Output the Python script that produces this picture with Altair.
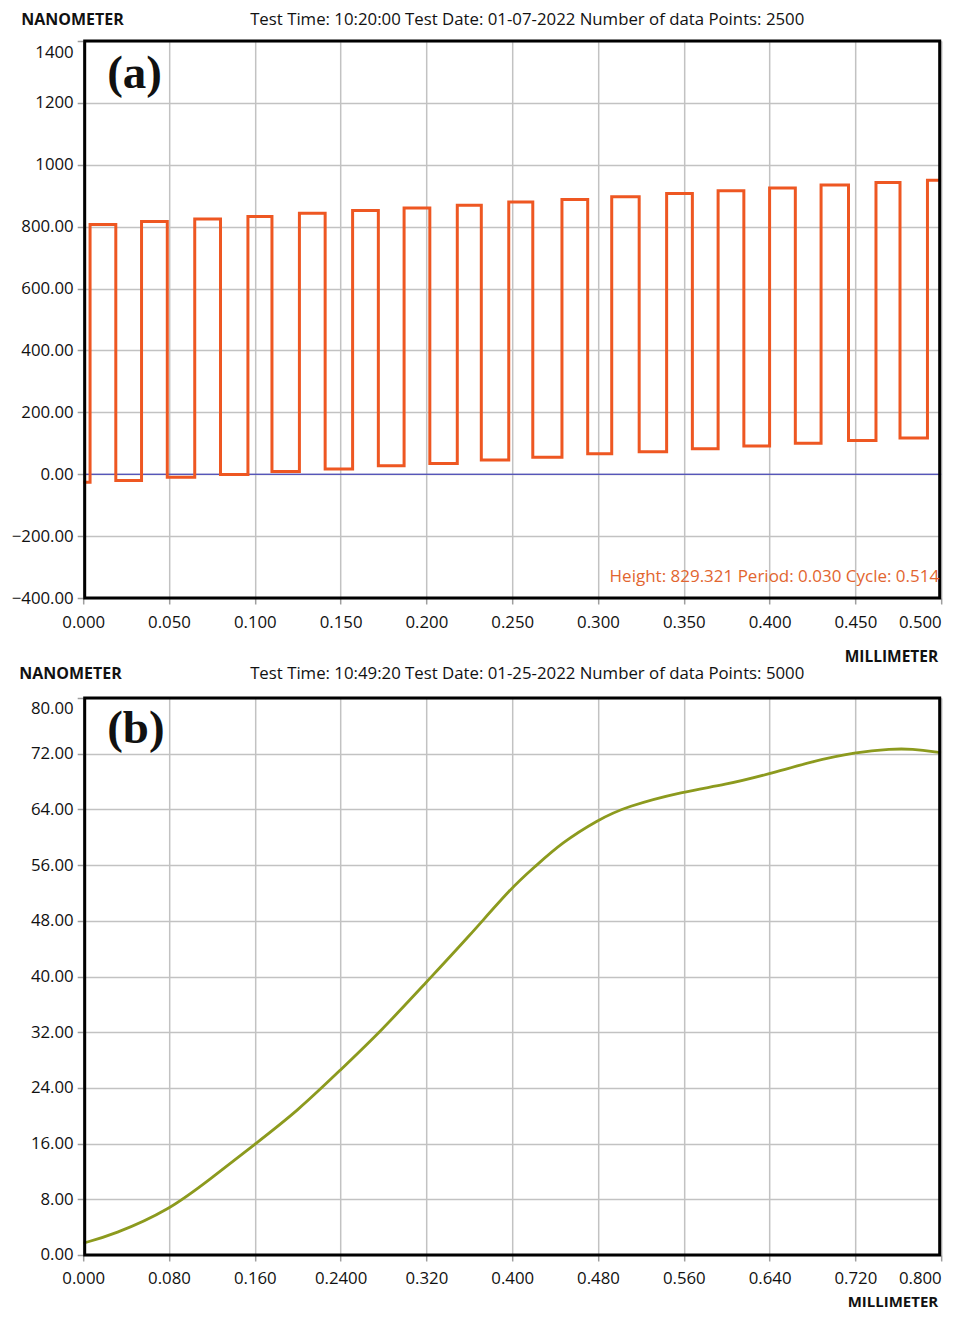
import altair as alt
import pandas as pd

# ---------------- Panel (a): square-wave profile ----------------
rise_a = [0.004, 0.034, 0.065, 0.096, 0.126, 0.157, 0.187, 0.218, 0.248,
          0.279, 0.308, 0.340, 0.370, 0.400, 0.430, 0.462, 0.492]
fall_a = [0.019, 0.049, 0.080, 0.110, 0.141, 0.172, 0.202, 0.232,
          0.262, 0.294, 0.324, 0.355, 0.385, 0.415, 0.446, 0.476]
high_a = [807, 817, 825, 833, 843, 852, 860, 869, 880, 888, 897, 907, 916,
          925, 935, 943, 950]
low_a = [-26, -20, -10, -1, 9, 17, 27, 35, 46, 55, 66, 73, 82, 91, 100, 109, 117]

x_ticks_a = [0.0, 0.05, 0.1, 0.15, 0.2, 0.25, 0.3, 0.35, 0.4, 0.45, 0.5]
y_ticks_a = [-400, -200, 0, 200, 400, 600, 800, 1000, 1200, 1400]

header_a = "Test Time: 10:20:00 Test Date: 01-07-2022 Number of data Points: 2500"
note_a = "Height: 829.321 Period: 0.030 Cycle: 0.514"

# ---------------- Panel (b): smooth profile ----------------
x_b = [0.000, 0.028, 0.080, 0.120, 0.160, 0.200, 0.240, 0.278, 0.320, 0.360,
       0.400, 0.4215, 0.446, 0.480, 0.506, 0.560, 0.598, 0.640, 0.680, 0.720,
       0.754, 0.772, 0.798, 0.800]
y_b = [1.7, 2.9, 6.4, 11.1, 15.9, 20.7, 26.6, 32.2, 39.2, 45.8,
       52.9, 55.8, 59.2, 62.5, 64.4, 66.6, 67.5, 69.1, 70.9, 72.2,
       72.7, 72.7, 72.2, 72.1]

x_ticks_b = [0.0, 0.08, 0.16, 0.24, 0.32, 0.4, 0.48, 0.56, 0.64, 0.72, 0.8]
y_ticks_b = [0, 8, 16, 24, 32, 40, 48, 56, 64, 72, 80]

header_b = "Test Time: 10:49:20 Test Date: 01-25-2022 Number of data Points: 5000"

# build step path for (a)
px, py = [0.0], [low_a[0]]
for k in range(len(rise_a)):
    px += [rise_a[k], rise_a[k]]
    py += [low_a[k], high_a[k]]
    if k < len(fall_a):
        px += [fall_a[k], fall_a[k]]
        py += [high_a[k], low_a[k + 1]]
    else:
        px += [0.5]
        py += [high_a[k]]
df_a = pd.DataFrame({"x": px, "y": py, "i": list(range(len(px)))})
df_b = pd.DataFrame({"x": x_b, "y": y_b})

W = 858
H_A = 557
H_B = 557
FONT = "Open Sans"
LBL = 16.8

def axis_x(vals, label_expr, last):
    return alt.Axis(values=vals, grid=True, gridColor="#C2C2C2", gridWidth=1.5,
                    domain=False, ticks=True, tickColor="#9E9E9E", tickSize=6,
                    tickWidth=1.5, labelFont=FONT, labelFontSize=LBL, labelColor="#111111",
                    labelPadding=10, labelExpr=label_expr, labelFlush=False,
                    labelAlign={"condition": {"test": f"datum.value >= {last}", "value": "right"},
                                "value": "center"},
                    title=None)

def axis_y(vals, label_expr, top):
    return alt.Axis(values=vals, grid=True, gridColor="#C2C2C2", gridWidth=1.5,
                    domain=False, ticks=True, tickColor="#9E9E9E", tickSize=6,
                    tickWidth=1.5, labelFont=FONT, labelFontSize=LBL, labelColor="#111111",
                    labelPadding=4, labelExpr=label_expr, labelFlush=False,
                    labelBaseline={"condition": {"test": f"datum.value >= {top}", "value": "top"},
                                   "value": "middle"},
                    labelOffset={"condition": {"test": f"datum.value >= {top}", "value": 3},
                                 "value": 0},
                    title=None)

def txt(s, x, y, size=15, weight="normal", align="left", color="#111111", font=FONT):
    return alt.Chart(pd.DataFrame({"t": [s]})).mark_text(
        font=font, fontSize=size, fontWeight=weight, align=align, baseline="middle",
        color=color
    ).encode(text="t:N", x=alt.value(x), y=alt.value(y))

def frame(h):
    return alt.Chart(pd.DataFrame({"a": [0]})).mark_rect(
        fill="transparent", stroke="black", strokeWidth=3
    ).encode(x=alt.value(1.5), x2=alt.value(W - 1.5), y=alt.value(0), y2=alt.value(h))

# ----- panel (a) -----
xa = alt.X("x:Q", scale=alt.Scale(domain=[0, 0.5], nice=False, zero=False),
           axis=axis_x(x_ticks_a, "format(datum.value, '.3f')", 0.5))
ya = alt.Y("y:Q", scale=alt.Scale(domain=[-400, 1400], nice=False, zero=False),
           axis=axis_y(y_ticks_a,
                       "datum.value >= 1000 ? format(datum.value, 'd') : format(datum.value, '.2f')",
                       1400))

line_a = alt.Chart(df_a).mark_line(color="#EE5722", strokeWidth=3, clip=True).encode(
    x=xa, y=ya, order="i:Q")
zero_a = alt.Chart(pd.DataFrame({"y": [0]})).mark_rule(color="#2B2BB5", strokeWidth=1).encode(
    y=alt.Y("y:Q"))

panel_a = alt.layer(
    zero_a, line_a, frame(H_A),
    txt("NANOMETER", -62, -21, size=16, weight="bold"),
    txt(header_a, 444, -21, size=16.8, align="center"),
    txt("(a)", 24, 33, size=47, weight="bold", font="Liberation Serif"),
    txt(note_a, W - 2, H_A - 21, size=17, align="right", color="#E2652F"),
    txt("MILLIMETER", W - 3, H_A + 59, size=15.5, weight="bold", align="right"),
).properties(width=W, height=H_A)

# ----- panel (b) -----
xb = alt.X("x:Q", scale=alt.Scale(domain=[0, 0.8], nice=False, zero=False),
           axis=axis_x(x_ticks_b,
                       "abs(datum.value - 0.24) < 1e-9 ? '0.2400' : format(datum.value, '.3f')",
                       0.8))
yb = alt.Y("y:Q", scale=alt.Scale(domain=[0, 80], nice=False, zero=False),
           axis=axis_y(y_ticks_b, "format(datum.value, '.2f')", 80))

line_b = alt.Chart(df_b).mark_line(color="#8C9A1E", strokeWidth=2.8, interpolate="basis",
                                   clip=True).encode(x=xb, y=yb)

panel_b = alt.layer(
    line_b, frame(H_B),
    txt("NANOMETER", -64, -23.5, size=16, weight="bold"),
    txt(header_b, 444, -23.5, size=16.8, align="center"),
    txt("(b)", 24, 31, size=47, weight="bold", font="Liberation Serif"),
    txt("MILLIMETER", W - 3, H_B + 47, size=15, weight="bold", align="right"),
).properties(width=W, height=H_B)

chart = alt.vconcat(panel_a, panel_b, spacing=0).properties(
    padding={"left": 2.2, "top": 3, "right": 0, "bottom": 0}
).configure_view(stroke=None).configure(background="white")

chart.save("out.html", embed_options={"renderer": "svg", "actions": False})
